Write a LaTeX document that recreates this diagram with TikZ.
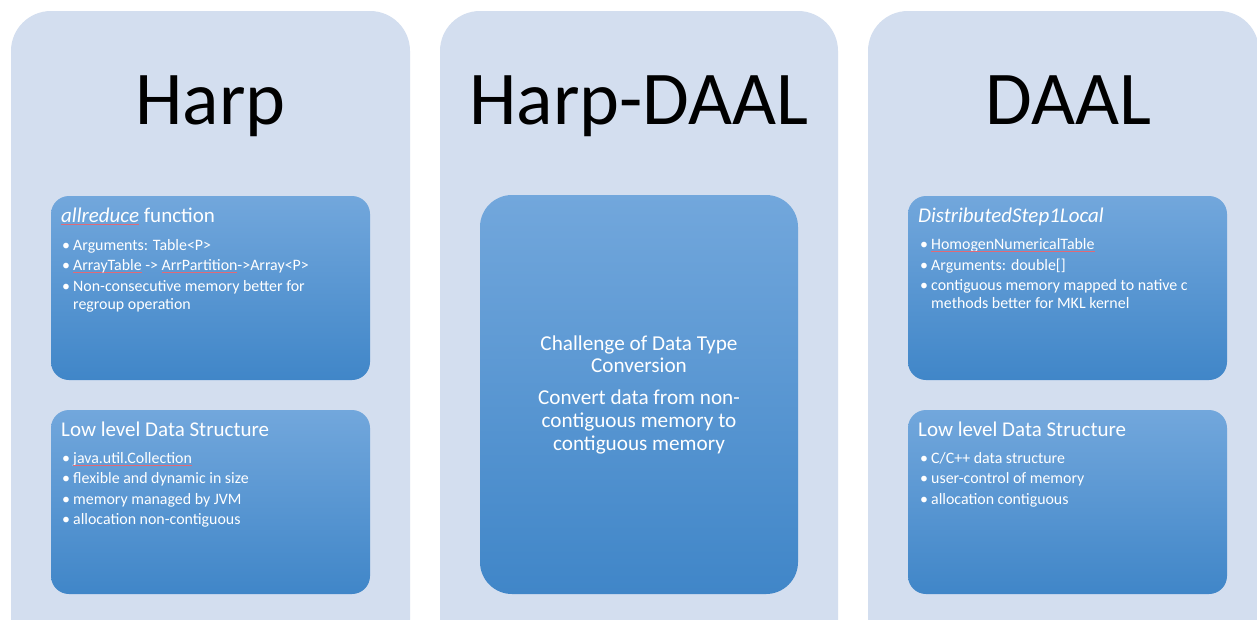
\documentclass[tikz,border=0pt]{standalone}
\usepackage{fontspec}
\setmainfont{Carlito}
\definecolor{panel}{HTML}{D3DEEF}
\definecolor{boxtop}{HTML}{72A7DC}
\definecolor{boxbot}{HTML}{4086C8}
\definecolor{squig}{HTML}{E06A78}
\newlength\sqlen
\newcommand\squig[1]{\settowidth\sqlen{#1}\rlap{\color{squig}\rule[-2.8pt]{\sqlen}{1.1pt}}#1}
\newcommand\bul{\makebox[11pt][l]{\textbullet}}
\begin{document}
\begin{tikzpicture}[x=1pt,y=-1pt,
  panelbox/.style={fill=panel, draw=none, rounded corners=40pt},
  bluebox/.style={top color=boxtop, bottom color=boxbot, draw=none, rounded corners=18pt},
  bigblue/.style={top color=boxtop, bottom color=boxbot, draw=none, rounded corners=32pt},
  title/.style={anchor=base, inner sep=0pt, font=\fontsize{76}{80}\selectfont},
  heading/.style={anchor=base west, inner sep=0pt, text=white, font=\fontsize{21}{24}\selectfont},
  body/.style={anchor=base west, inner sep=0pt, text=white, font=\fontsize{15.9}{18}\selectfont},
  midtext/.style={anchor=base, inner sep=0pt, text=white, font=\fontsize{21.2}{22.9}\selectfont},
  squigline/.style={draw=squig, line width=1.1pt}
]
\useasboundingbox (0,0) rectangle (1257,619);
\clip (0,0) rectangle (1257,619);
\fill[white] (0,0) rectangle (1257,619);

% panels
\path[panelbox] (11,11) rectangle (410,680);
\path[panelbox] (440,11) rectangle (838,680);
\path[panelbox] (868,11) rectangle (1259,680);

% titles
\node[title] (tHarp) at (210.5,124) {Harp};
\node[title] (tHD) at (639,124) {Harp-DAAL};
\node[title] (tDAAL) at (1068.5,124) {DAAL};

% Harp boxes
\path[bluebox] (51,196) rectangle (370,380);
\path[bluebox] (51,410) rectangle (370,594);
\node[heading] (h1) at (61,222) {{\itshape\squig{allreduce}} function};
\node[body] (b1a) at (62,250) {\bul Arguments: Table<P>};
\node[body] (b1b) at (62,270.5) {\bul \squig{ArrayTable} -> \squig{ArrPartition}->Array<P>};
\node[body] (b1c) at (62,291) {\bul Non-consecutive memory better for};
\node[body] (b1d) at (73,309) {regroup operation};
\node[heading] (h2) at (61,436) {Low level Data Structure};
\node[body] (b2a) at (62,463) {\bul};
\node[body] (b2t) at (73,463) {java.util.Collection};
\node[body] (b2b) at (62,483.5) {\bul flexible and dynamic in size};
\node[body] (b2c) at (62,504) {\bul memory managed by JVM};
\node[body] (b2d) at (62,524.5) {\bul allocation non-contiguous};
\draw[squigline] ([yshift=-2.3pt]b2t.base west) -- ([yshift=-2.3pt]b2t.base east);

% middle box
\path[bigblue] (480,195) rectangle (798,594);
\node[midtext] (m) at (639,350) {\begin{tabular}[t]{@{}c@{}}
Challenge of Data Type\\
Conversion\\[9pt]
Convert data from non-\\
contiguous memory to\\
contiguous memory
\end{tabular}};

% DAAL boxes
\path[bluebox] (908,196) rectangle (1227,380);
\path[bluebox] (908,410) rectangle (1227,594);
\node[heading] (h3) at (918,222) {\itshape DistributedStep1Local};
\node[body] (b3a) at (920,249) {\bul};
\node[body] (b3t) at (931,249) {HomogenNumericalTable};
\node[body] (b3b) at (920,270) {\bul Arguments: double[]};
\node[body] (b3c) at (920,290.5) {\bul contiguous memory mapped to native c};
\node[body] (b3d) at (931,308.5) {methods better for MKL kernel};
\draw[squigline] ([yshift=-2.3pt]b3t.base west) -- ([yshift=-2.3pt]b3t.base east);
\node[heading] (h4) at (918,436) {Low level Data Structure};
\node[body] (b4a) at (920,463) {\bul C/C++ data structure};
\node[body] (b4b) at (920,483.5) {\bul user-control of memory};
\node[body] (b4c) at (920,504) {\bul allocation contiguous};
\end{tikzpicture}
\end{document}
